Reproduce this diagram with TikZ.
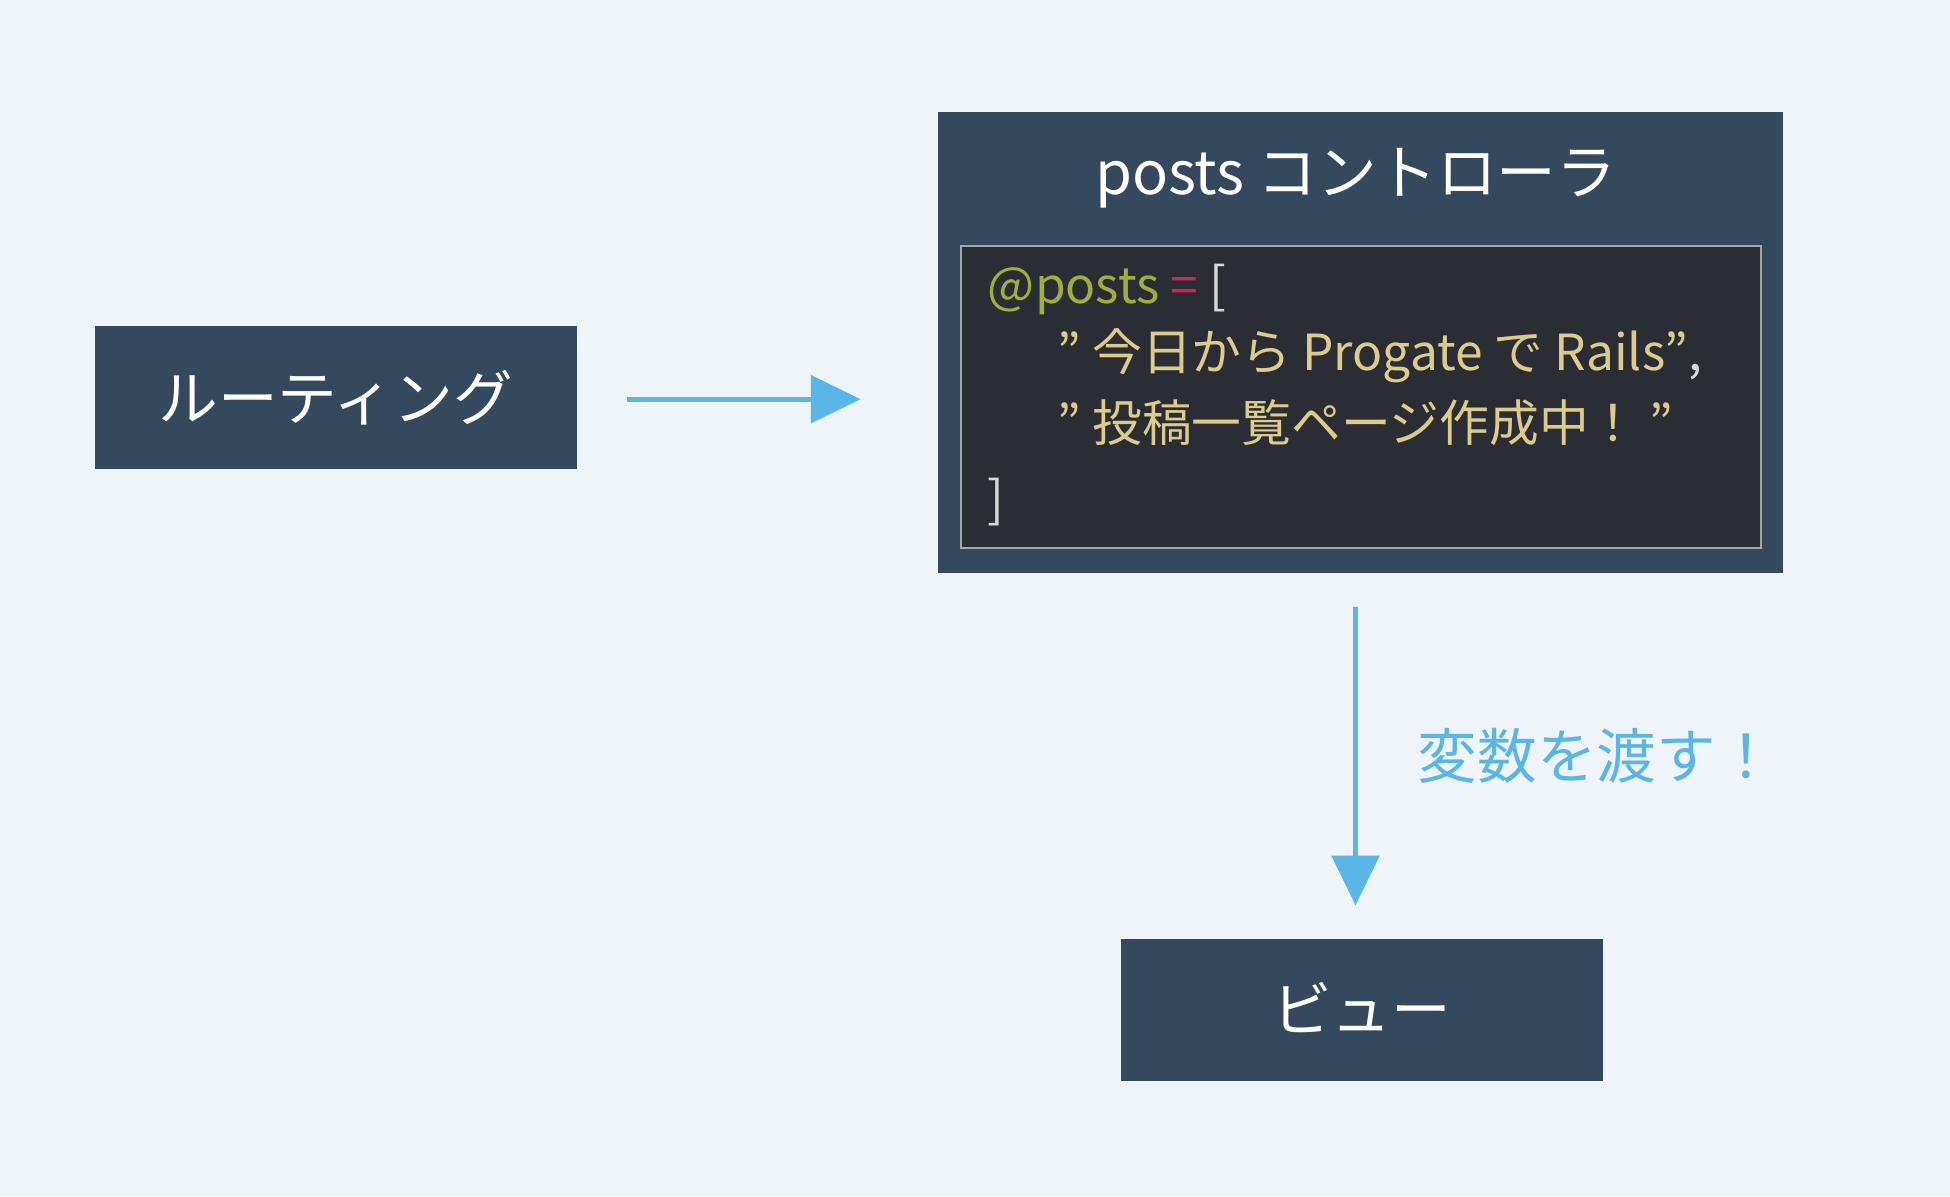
\documentclass[tikz,border=0pt]{standalone}
\usepackage{fontspec}
\setmainfont{Noto Sans CJK JP}
\usetikzlibrary{arrows.meta}
\definecolor{bg}{HTML}{EFF4F9}
\definecolor{boxc}{HTML}{34495E}
\definecolor{codebg}{HTML}{2A2D33}
\definecolor{arr}{HTML}{5AB6E6}
\definecolor{cgreen}{HTML}{A0AE3E}
\definecolor{cred}{HTML}{D0245A}
\definecolor{cstr}{HTML}{DDCB8C}
\definecolor{cgray}{HTML}{D8D8D8}
\begin{document}
\begin{tikzpicture}[x=0.5pt,y=-0.5pt,
  boxtext/.style={text=white,font=\fontsize{24}{28}\selectfont},
  code/.style={anchor=west,inner sep=0pt,font=\fontsize{20}{24}\selectfont},
  flow/.style={draw=arr,line width=2pt,-{Triangle[length=20pt,width=19pt]}}]
\fill[bg] (0,0) rectangle (1568,962);
\useasboundingbox (0,0) rectangle (1568,962);
\fill[boxc] (76,262) rectangle (464,377);
\node[boxtext] (rt) at (270,320) {ルーティング};
\fill[boxc] (754,90) rectangle (1434,461);
\coordinate (ctl) at (754,321);
\node[boxtext] (ct) at (1090,143) {posts コントローラ};
\filldraw[fill=codebg,draw=gray!70,line width=0.8pt] (773,198) rectangle (1416,441);
\node[code] (l1) at (794,233) {\textcolor{cgreen}{@posts} \textcolor{cred}{=} \textcolor{cgray}{[}};
\node[code,text=cstr] (l2) at (850,286) {" 今日から Progate で Rails"\textcolor{cgray}{,}};
\node[code,text=cstr] (l3) at (850,340) {" 投稿一覧ページ作成中！ "};
\node[code,text=cgray] (l4) at (794,404) {]};
\fill[boxc] (901,755) rectangle (1289,869);
\node[boxtext] (vw) at (1095,810) {ビュー};
\coordinate (a1) at (504,321);
\coordinate (a2) at (692,321);
\draw[flow] (a1) -- (a2);
\coordinate (b1) at (1090,488);
\coordinate (b2) at (1090,728);
\draw[flow] (b1) -- (b2);
\node[anchor=west,text=arr,font=\fontsize{24}{28}\selectfont] (lb) at (1133,608) {変数を渡す！};
\end{tikzpicture}
\end{document}
